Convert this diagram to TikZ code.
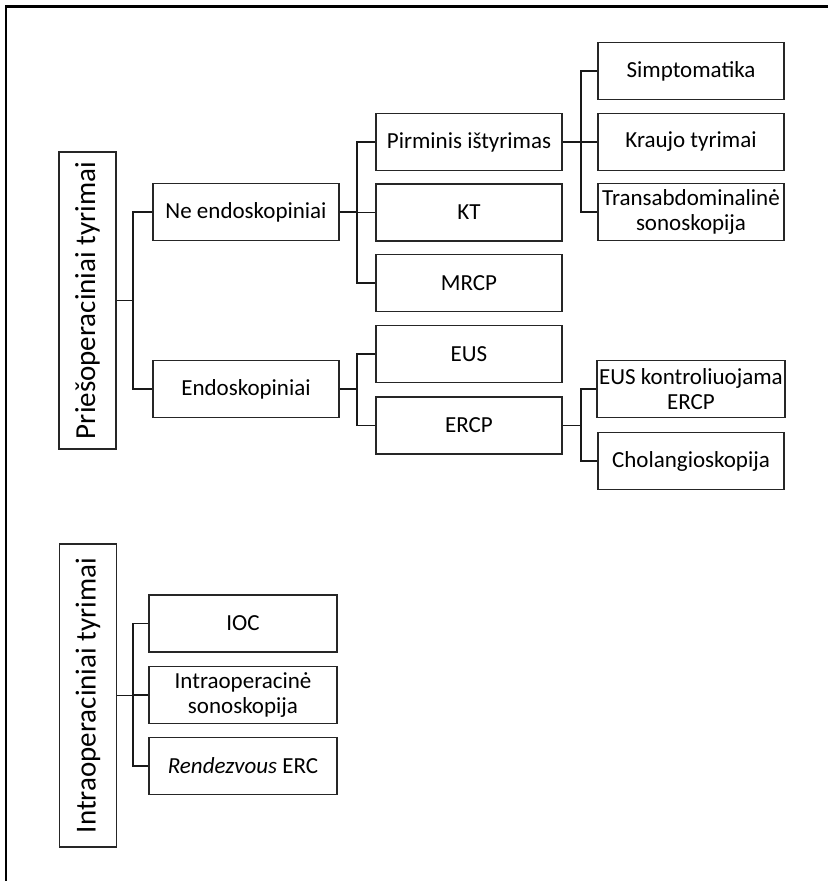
\documentclass[tikz,border=0pt]{standalone}
\usepackage{fontspec}
\setmainfont{Carlito}
\begin{document}
\begin{tikzpicture}[x=0.5pt,y=-0.5pt,
  box/.style={draw=black!85,line width=0.75pt,fill=white,inner sep=1pt,align=center,
    font=\fontsize{11.5}{12.6}\selectfont,minimum width=93pt,minimum height=28.5pt},
  vbox/.style={draw=black!85,line width=0.75pt,fill=white,inner sep=1pt,rotate=90,
    font=\fontsize{14.5}{17}\selectfont,minimum height=28.5pt},
  conn/.style={draw=black!90,line width=0.65pt}]
\useasboundingbox (0,0) rectangle (828,881);
\draw[line width=1.1pt] (6,881) -- (6,6.5) -- (828,6.5);
% level 1
\node[vbox,minimum width=148.5pt] (pries) at (87.5,300.5) {Priešoperaciniai tyrimai};
\node[vbox,minimum width=151.5pt] (intra) at (88,695.5) {Intraoperaciniai tyrimai};
% level 2
\node[box] (ne) at (246,212) {Ne endoskopiniai};
\node[box] (endo) at (246,389) {Endoskopiniai};
% level 3
\node[box] (pirm) at (469,142) {Pirminis ištyrimas};
\node[box] (kt) at (469,212.5) {KT};
\node[box] (mrcp) at (469,283) {MRCP};
\node[box] (eus) at (469,354) {EUS};
\node[box] (ercp) at (469,425.5) {ERCP};
% level 4
\node[box] (simp) at (691,71) {Simptomatika};
\node[box] (krau) at (691,142) {Kraujo tyrimai};
\node[box] (trans) at (691,212) {Transabdominalinė\\sonoskopija};
\node[box] (euskon) at (691,389) {EUS kontroliuojama\\ERCP};
\node[box] (chol) at (691,461) {Cholangioskopija};
% intra children
\node[box,minimum width=94pt] (ioc) at (243,623.5) {IOC};
\node[box,minimum width=94pt] (ioson) at (243,695) {Intraoperacinė\\sonoskopija};
\node[box,minimum width=94pt] (rend) at (243,766) {\textit{Rendezvous} ERC};
% junctions
\coordinate (j1) at (133,300.5);
\coordinate (j2) at (357,212);
\coordinate (j3) at (357,389);
\coordinate (j4) at (581,142);
\coordinate (j5) at (581,425.5);
\coordinate (j6) at (133,695.5);
% connectors
\draw[conn] (pries.south) -- (j1);
\draw[conn] (ne.west) -| (j1);
\draw[conn] (endo.west) -| (j1);
\draw[conn] (ne.east) -- (j2);
\draw[conn] (pirm.west) -| (j2);
\draw[conn] (kt.west) -| (j2);
\draw[conn] (mrcp.west) -| (j2);
\draw[conn] (endo.east) -- (j3);
\draw[conn] (eus.west) -| (j3);
\draw[conn] (ercp.west) -| (j3);
\draw[conn] (pirm.east) -- (j4);
\draw[conn] (simp.west) -| (j4);
\draw[conn] (krau.west) -| (j4);
\draw[conn] (trans.west) -| (j4);
\draw[conn] (ercp.east) -- (j5);
\draw[conn] (euskon.west) -| (j5);
\draw[conn] (chol.west) -| (j5);
\draw[conn] (intra.south) -- (j6);
\draw[conn] (ioc.west) -| (j6);
\draw[conn] (ioson.west) -| (j6);
\draw[conn] (rend.west) -| (j6);
\end{tikzpicture}
\end{document}
